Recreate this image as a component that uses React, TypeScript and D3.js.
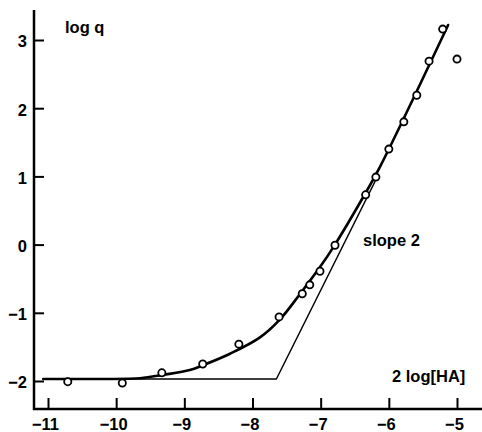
import React from 'react';
import * as d3 from 'd3';

// x = 2 log[HA], y = log q
const pointX = [-10.71, -9.91, -9.33, -8.73, -8.2, -7.61, -7.27, -7.16, -7.01, -6.79, -6.34, -6.19, -6.0, -5.78, -5.59, -5.41, -5.21, -5.0];
const pointY = [-2.01, -2.03, -1.88, -1.75, -1.46, -1.06, -0.72, -0.59, -0.39, -0.01, 0.73, 0.99, 1.4, 1.8, 2.19, 2.69, 3.16, 2.72];

// fitted curve
const curveX = [-11.07, -10.24, -9.65, -9.31, -8.92, -8.73, -8.33, -7.89, -7.6, -7.3, -7.01, -6.79, -6.34, -6.13, -5.13];
const curveY = [-1.97, -1.97, -1.96, -1.91, -1.84, -1.77, -1.6, -1.36, -1.1, -0.72, -0.33, 0.0, 0.76, 1.14, 3.22];

// asymptotes: plateau and slope 2
const asymX = [-11.05, -7.65, -6.2];
const asymY = [-1.97, -1.97, 0.93];

const xTicks = [-11, -10, -9, -8, -7, -6, -5];
const yTicks = [-2, -1, 0, 1, 2, 3];

const App = () => {
  const Width = 482;
  const Height = 432;
  const axisX = 34;
  const axisY = 409;

  const xScale = d3.scaleLinear().domain([-11, -5]).range([48, 457]);
  const yScale = d3.scaleLinear().domain([-2, 3]).range([381, 40]);

  const curvePath = d3
    .line<[number, number]>()
    .x((d) => xScale(d[0]))
    .y((d) => yScale(d[1]))
    .curve(d3.curveCatmullRom.alpha(0.5))(curveX.map((x, i) => [x, curveY[i]]));
  const asymPath = d3
    .line<[number, number]>()
    .x((d) => xScale(d[0]))
    .y((d) => yScale(d[1]))(asymX.map((x, i) => [x, asymY[i]]));

  const font = { fontFamily: '"Liberation Sans", Arial, sans-serif', fontWeight: 700 };

  const styleAxis = (node: SVGGElement | null) => {
    if (!node) return;
    const g = d3.select(node);
    g.select('.domain').remove();
    g.selectAll('.tick line').attr('stroke', '#000').attr('stroke-width', 2);
    g.selectAll('.tick text')
      .attr('fill', '#000')
      .style('font-family', font.fontFamily)
      .style('font-weight', 700)
      .style('font-size', '16.5px');
  };

  return (
    <svg width={Width} height={Height} style={{ position: 'absolute', left: 0, top: 0, background: '#fff' }}>
      <rect width={Width} height={Height} fill="#fff" />

      {/* axis lines */}
      <line x1={axisX} y1={10} x2={axisX} y2={axisY + 1} stroke="#000" strokeWidth={2.5} />
      <line x1={axisX - 1} y1={axisY} x2={Width} y2={axisY} stroke="#000" strokeWidth={2.5} />

      <g
        transform={`translate(${axisX}, 0)`}
        ref={(node) => {
          if (!node) return;
          d3.select(node).call(d3.axisLeft(yScale).tickValues(yTicks).tickSizeInner(-10).tickSizeOuter(0).tickPadding(7).tickFormat(d3.format('d')));
          styleAxis(node);
          d3.select(node).selectAll('.tick text').attr('dy', '0.42em');
        }}
      />
      <g
        transform={`translate(0, ${axisY})`}
        ref={(node) => {
          if (!node) return;
          d3.select(node).call(d3.axisBottom(xScale).tickValues(xTicks).tickSizeInner(-11).tickSizeOuter(0).tickPadding(9).tickFormat(d3.format('d')));
          styleAxis(node);
          d3.select(node).selectAll('.tick text').attr('dx', '-3').attr('dy', '0.75em');
        }}
      />

      <path d={asymPath ?? ''} fill="none" stroke="#000" strokeWidth={1.4} />
      <path d={curvePath ?? ''} fill="none" stroke="#000" strokeWidth={2.6} strokeLinecap="round" />

      {pointX.map((x, i) => (
        <circle key={i} cx={xScale(x)} cy={yScale(pointY[i])} r={3.6} fill="#fff" stroke="#000" strokeWidth={1.8} />
      ))}

      <text x={65} y={33} style={{ ...font, fontSize: '16.5px' }}>log q</text>
      <text x={363} y={246} style={{ ...font, fontSize: '16.5px' }}>slope 2</text>
      <text x={392} y={382} style={{ ...font, fontSize: '16.5px' }}>2 log[HA]</text>
    </svg>
  );
};

export default App;
